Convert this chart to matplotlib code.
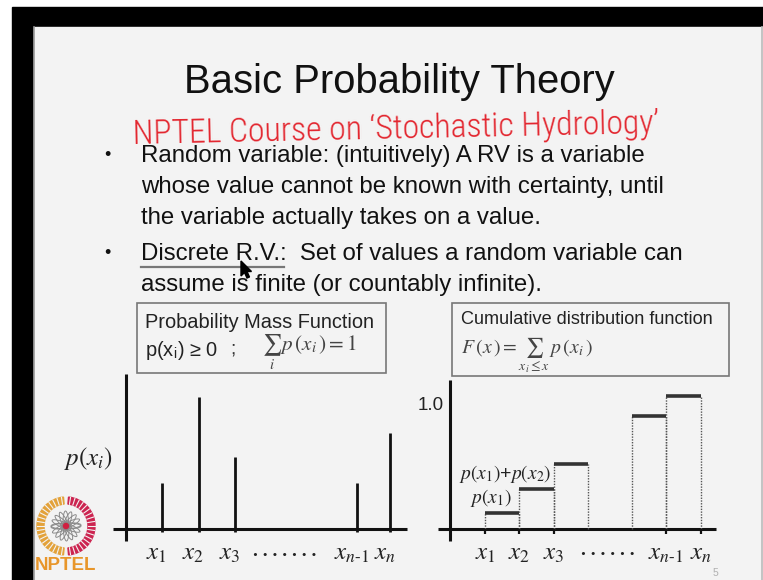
import matplotlib
matplotlib.use("Agg")
import numpy as np
import matplotlib.pyplot as plt
from matplotlib.patches import Rectangle, Wedge, Ellipse, Polygon, Circle

# ---- content -------------------------------------------------------------
title = "Basic Probability Theory"
handnote = "NPTEL Course on \u2018Stochastic Hydrology\u2019"
bullet_lines = [
    "Random variable: (intuitively) A RV is a variable",
    "whose value cannot be known with certainty, until",
    "the variable actually takes on a value.",
    "Discrete R.V.:  Set of values a random variable can",
    "assume is finite (or countably infinite).",
]
pmf_box = ["Probability Mass Function"]
cdf_box = ["Cumulative distribution function"]

# probability mass function (stems)
pmf_labels = [r"$x_1$", r"$x_2$", r"$x_3$", r"$x_{n\text{-}1}$", r"$x_n$"]
pmf_x = [1, 2, 3, 6.35, 7.25]
pmf_p = [0.115, 0.33, 0.18, 0.115, 0.24]

# cumulative distribution function (steps)
cdf_labels = [r"$x_1$", r"$x_2$", r"$x_3$", r"$x_{n\text{-}1}$", r"$x_n$"]
cdf_x = [1, 2, 3, 6.25, 7.25]
cdf_step_start = [1, 2, 3, 5.25, 6.25]
cdf_F = [0.12, 0.30, 0.49, 0.85, 1.0]

# ---- figure --------------------------------------------------------------
W, H = 763, 580
plt.rcParams["mathtext.fontset"] = "stix"
plt.rcParams["font.family"] = ["Liberation Sans", "DejaVu Sans"]

fig = plt.figure(figsize=(W / 100, H / 100), dpi=100, facecolor="white")
bg = fig.add_axes([0, 0, 1, 1])
bg.set_xlim(0, W)
bg.set_ylim(H, 0)
bg.axis("off")

# frame and slide
bg.add_patch(Rectangle((12, 7), W - 12, H - 7, color="black", zorder=0))
bg.add_patch(Rectangle((34, 27), W - 34, H - 27, color="#f3f3f3", zorder=1))
bg.plot([34, 34], [27, H], color="#999999", lw=1.2, zorder=2)
bg.plot([W - 1, W - 1], [27, H], color="#bbbbbb", lw=1.2, zorder=2)

INK = "#111111"

bg.text(399, 82, title, ha="center", va="center", fontsize=28.8, color=INK, zorder=3)

bg.text(132, 129, handnote, ha="left", va="center", fontsize=24.3, color="#e3262f",
        family=["Roboto Condensed", "Roboto", "DejaVu Sans"], fontweight="light",
        rotation=1.2, zorder=3)

line_y = [156, 187, 218, 254, 285]
for y, s in zip(line_y, bullet_lines):
    bg.text(141, y, s, ha="left", va="center", fontsize=17.3, color=INK, zorder=3)
for y in (line_y[0], line_y[3]):
    bg.text(107, y, "\u2022", ha="center", va="center", fontsize=13, color=INK, zorder=3)
# underline under "Discrete R.V."
bg.plot([141, 284], [267, 267], color="#777777", lw=1.6, zorder=3)

# mouse pointer
tip = (241, 261)
ptr = [(0, 0), (0, 15), (3.5, 11.5), (6, 17), (8.5, 16), (6, 10.5), (10.5, 10.5)]
bg.add_patch(Polygon([(tip[0] + a, tip[1] + b) for a, b in ptr], closed=True,
                     color="black", zorder=6))

# boxes
bg.add_patch(Rectangle((137, 303), 249, 70, fill=False, ec="#777777", lw=1.2, zorder=3))
bg.text(145, 322, pmf_box[0], ha="left", va="center", fontsize=14.4, color="#222222", zorder=4)
bg.text(145, 350, "p(x$_\\mathregular{i}$) \u2265 0", ha="left", va="center",
        fontsize=14.4, color="#222222", zorder=4)
bg.text(230, 349, ";", ha="left", va="center", fontsize=14, color="#333333", zorder=4)
bg.text(262, 352, r"$\sum_i\, p\,(x_i\,) = 1$", ha="left", va="center",
        fontsize=15.2, color="#444444", zorder=4)

bg.add_patch(Rectangle((452, 303), 277, 73, fill=False, ec="#777777", lw=1.2, zorder=3))
bg.text(461, 319, cdf_box[0], ha="left", va="center", fontsize=13.1, color="#222222", zorder=4)
bg.text(461, 355, r"$F\,(x\,) = \sum_{x_i \leq x}\, p\,(x_i\,)$", ha="left", va="center",
        fontsize=14.2, color="#444444", zorder=4)

bg.text(715, 573, "5", ha="center", va="center", fontsize=7.5, color="#b0b0b0", zorder=3)

# NPTEL emblem
cx, cy, R = 66, 526, 29
bg.add_patch(Wedge((cx, cy), R, 95, 265, width=7, color="#e3a23a", zorder=3))
bg.add_patch(Wedge((cx, cy), R, -85, 85, width=7, color="#cc2450", zorder=3))
for ang in np.arange(0, 360, 9):
    r0, r1 = R - 7, R
    a = np.deg2rad(ang)
    bg.plot([cx + r0 * np.cos(a), cx + r1 * np.cos(a)],
            [cy + r0 * np.sin(a), cy + r1 * np.sin(a)],
            color="#f3f3f3", lw=0.8, zorder=4)
for ang in range(0, 180, 22):
    bg.add_patch(Ellipse((cx, cy), 30, 6, angle=ang, fill=False, ec="#8a8a8a", lw=0.7, zorder=4))
bg.add_patch(Circle((cx, cy), 2.5, color="#d02040", zorder=5))
bg.text(66, 566, "NPTEL", ha="center", va="center", fontsize=13.5, fontweight="bold",
        color="#e8962a", zorder=4)


def axes_at(ox, oy, sx, sy, left, right, top, bottom):
    """Axes whose data origin sits at pixel (ox, oy) with sx, sy pixels per unit."""
    ax = fig.add_axes([left / W, 1 - bottom / H, (right - left) / W, (bottom - top) / H])
    ax.set_xlim((left - ox) / sx, (right - ox) / sx)
    ax.set_ylim((oy - bottom) / sy, (oy - top) / sy)
    ax.axis("off")
    ax.patch.set_alpha(0)
    return ax

LBL = 18

# ---- probability mass function -------------------------------------------
ax1 = axes_at(125.5, 529, 36.5, 400, 60, 412, 360, 570)
ax1.plot([-0.34, 7.71], [0, 0], color=INK, lw=2.2, solid_capstyle="butt")
ax1.plot([0, 0], [-0.03, 0.3875], color=INK, lw=2.2, solid_capstyle="butt")
ax1.vlines(pmf_x, -0.008, pmf_p, color=INK, lw=2.0)
for x, lab in zip(pmf_x, pmf_labels):
    ax1.text(x - 0.15, -0.06, lab, ha="center", va="center", fontsize=LBL, color="#222222")
ax1.text(4.35, -0.055, ". . . . . . .", ha="center", va="center", fontsize=14,
         family="Liberation Serif", fontweight="bold", color="#222222")
ax1.text(-0.35, 0.175, r"$p(x_i)$", ha="right", va="center", fontsize=LBL, color="#222222")

# ---- cumulative distribution function ------------------------------------
ax2 = axes_at(450.5, 529, 34.5, 133, 412, 740, 370, 570)
ax2.plot([-0.36, 7.69], [0, 0], color=INK, lw=2.2, solid_capstyle="butt")
ax2.plot([0, 0], [-0.09, 1.12], color=INK, lw=2.2, solid_capstyle="butt")
for s, F in zip(cdf_step_start, cdf_F):
    ax2.vlines([s, s + 1], 0, F, color="#555555", lw=1.0, linestyles=(0, (1, 1)))
ax2.hlines(cdf_F, cdf_step_start, [s + 1 for s in cdf_step_start], color="#333333", lw=2.6)
ax2.vlines(cdf_x, -0.035, 0, color=INK, lw=1.6)
for x, lab in zip(cdf_x, cdf_labels):
    ax2.text(x, -0.18, lab, ha="center", va="center", fontsize=LBL, color="#222222")
ax2.text(4.55, -0.165, ". . . . . .", ha="center", va="center", fontsize=14,
         family="Liberation Serif", fontweight="bold", color="#222222")
ax2.annotate("1.0", xy=(-0.2, 1.0), xytext=(0, -7), textcoords="offset points",
             ha="right", va="center", fontsize=13.5, color="#222222")
ax2.annotate(r"$p(x_1)$", xy=(1.17, cdf_F[0]), xytext=(0, 11), textcoords="offset points",
             ha="center", va="center", fontsize=14, color="#222222")
ax2.annotate(r"$p(x_1)$+$p(x_2)$", xy=(1.58, cdf_F[1]), xytext=(0, 11), textcoords="offset points",
             ha="center", va="center", fontsize=14, color="#222222")

fig.savefig("out.png", dpi=100, facecolor=fig.get_facecolor())
